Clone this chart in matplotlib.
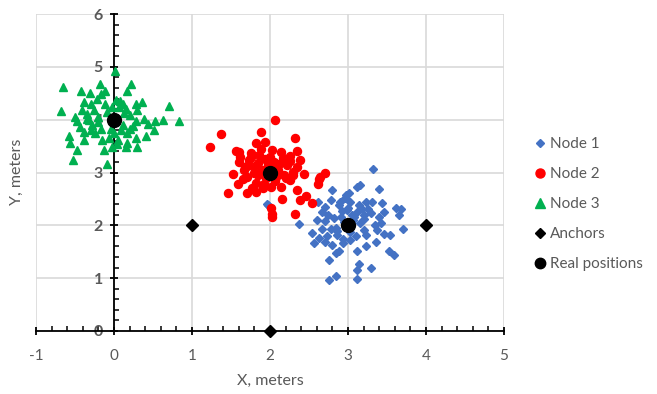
import matplotlib
matplotlib.use("Agg")
import matplotlib.pyplot as plt
from matplotlib.ticker import MultipleLocator
from matplotlib.lines import Line2D

plt.rcParams['font.family'] = ['Lato', 'DejaVu Sans']

# ---- data ----
node1_x = [3.32, 3.12, 3.15, 3.40, 2.80, 2.96, 3.03, 2.78, 2.71, 2.67, 2.88, 2.99, 3.14, 3.23,
           3.31, 3.44, 3.61, 3.65, 3.46, 3.40, 3.30, 3.21, 3.12, 3.08, 2.82, 2.91, 2.61, 2.37,
           2.67, 2.78, 2.54, 2.63, 2.56, 2.71, 2.80, 2.86, 2.88, 2.94, 3.03, 3.03, 3.21, 3.23,
           3.37, 3.46, 3.54, 3.36, 3.23, 3.11, 3.53, 3.59, 2.76, 2.84, 3.14, 3.12, 3.29, 2.84,
           2.76, 3.11, 1.97, 2.95, 2.73, 3.16, 1.96, 3.00, 2.92, 3.07, 3.18, 3.35, 2.70, 2.85,
           2.90, 2.98, 3.05, 3.26, 2.86, 2.93, 3.10, 2.74, 3.20, 3.42, 3.68, 3.70, 2.60, 3.01]
node1_y = [3.07, 2.73, 2.76, 2.69, 2.66, 2.51, 2.44, 2.48, 2.35, 2.26, 2.38, 2.29, 2.38, 2.44,
           2.44, 2.43, 2.33, 2.19, 2.26, 2.16, 2.23, 2.19, 2.26, 2.16, 2.13, 2.16, 2.44, 2.02,
           1.94, 1.94, 1.85, 1.76, 1.66, 1.68, 1.63, 1.82, 1.51, 1.66, 1.72, 1.88, 1.91, 1.82,
           1.91, 1.83, 1.82, 1.69, 1.60, 1.51, 1.51, 1.44, 1.35, 1.48, 1.26, 1.16, 1.19, 1.04,
           0.96, 0.98, 2.38, 2.06, 1.79, 2.04, 2.40, 2.33, 2.28, 2.10, 2.30, 2.00, 2.08, 1.95,
           2.45, 2.58, 2.20, 2.31, 1.90, 1.75, 1.80, 2.20, 2.12, 2.05, 2.30, 1.93, 2.10, 2.62]

node2_x = [2.06, 1.37, 1.88, 1.23, 2.32, 1.82, 1.93, 1.56, 1.60, 1.76, 2.03, 2.14, 2.34, 2.26,
           2.39, 1.94, 1.86, 1.73, 1.60, 1.79, 2.12, 2.22, 2.35, 2.44, 2.29, 2.18, 1.52, 1.67,
           1.71, 1.84, 1.65, 1.59, 1.82, 2.07, 2.26, 2.14, 2.70, 2.64, 2.61, 1.46, 1.71, 1.82,
           1.91, 2.01, 2.34, 2.46, 2.39, 2.54, 2.16, 2.01, 2.03, 2.32, 1.77, 1.97, 2.63, 2.03,
           1.90, 2.10, 1.75, 2.20, 1.68, 1.95, 2.05, 1.88, 1.80, 2.00, 2.17, 1.92, 1.70, 2.25,
           2.08, 1.85, 1.62, 2.30]
node2_y = [3.99, 3.72, 3.77, 3.48, 3.66, 3.55, 3.58, 3.40, 3.39, 3.36, 3.42, 3.39, 3.40, 3.31,
           3.23, 3.26, 3.33, 3.23, 3.20, 3.11, 3.17, 3.14, 3.11, 2.98, 3.01, 2.95, 2.98, 3.04,
           2.92, 2.95, 2.87, 2.79, 2.81, 2.84, 2.86, 2.73, 2.99, 2.92, 2.79, 2.62, 2.62, 2.64,
           2.70, 2.73, 2.67, 2.56, 2.48, 2.43, 2.50, 2.32, 2.21, 2.21, 2.70, 3.14, 2.88, 2.16,
           3.05, 3.05, 3.30, 2.90, 3.10, 2.90, 3.20, 3.45, 3.00, 3.30, 3.28, 2.78, 3.12, 3.22,
           2.92, 3.18, 3.30, 2.95]

node3_x = [0.01, -0.66, 0.22, -0.18, -0.42, -0.31, -0.17, -0.11, 0.17, -0.68, -0.38, -0.30,
           0.02, 0.11, 0.28, 0.36, 0.71, 0.30, 0.83, 0.63, 0.53, 0.43, 0.38, 0.28, 0.51, 0.41,
           0.30, 0.16, 0.04, -0.02, 0.28, 0.17, 0.09, 0.21, -0.47, -0.43, -0.58, -0.56, -0.47,
           -0.53, -0.38, -0.30, -0.17, -0.15, -0.13, -0.09, -0.24, -0.34, -0.26, -0.09, -0.02,
           0.06, 0.15, -0.41, -0.32, -0.21, -0.38, 0.00, -0.04, 0.17, -0.20, -0.12, 0.08, 0.12,
           -0.28, -0.06, 0.20, -0.35, 0.05, -0.22, 0.24, -0.50, 0.13]
node3_y = [4.92, 4.62, 4.68, 4.68, 4.55, 4.50, 4.49, 4.55, 4.55, 4.16, 4.33, 4.30, 4.38, 4.30,
           4.30, 4.33, 4.25, 4.18, 3.97, 4.00, 3.97, 3.91, 4.02, 3.97, 3.80, 3.70, 3.48, 3.48,
           3.53, 3.48, 3.66, 3.74, 3.80, 3.83, 3.97, 3.86, 3.70, 3.55, 3.43, 3.23, 3.61, 3.80,
           3.83, 3.61, 3.43, 3.17, 3.74, 4.11, 4.18, 4.14, 4.24, 4.24, 4.21, 4.18, 3.99, 3.96,
           3.77, 3.74, 3.83, 3.55, 4.05, 4.30, 4.35, 3.90, 3.90, 3.65, 4.08, 4.02, 3.62, 4.40,
           3.88, 4.05, 4.12]

anchor_x = [1, 4, 2]
anchor_y = [2, 2, 0]
real_x = [0, 2, 3]
real_y = [4, 3, 2]

series_labels = ["Node 1", "Node 2", "Node 3", "Anchors", "Real positions"]
x_ticks = [-1, 0, 1, 2, 3, 4, 5]
y_ticks = [0, 1, 2, 3, 4, 5, 6]

# ---- figure ----
fig = plt.figure(figsize=(6.57, 3.94), dpi=100)
ax = fig.add_axes([36/657, 1 - 331/394, (504 - 36)/657, (331 - 14)/394])

grid_c = '#D9D9D9'
text_c = '#595959'

ax.set_xlim(-1, 5)
ax.set_ylim(0, 6)
for gx in x_ticks:
    ax.axvline(gx, color=grid_c, lw=1.2, zorder=0)
for gy in y_ticks:
    ax.axhline(gy, color=grid_c, lw=1.2, zorder=0)

ax.plot(node1_x, node1_y, ls='none', marker='D', ms=3.7, color='#4472C4', label=series_labels[0], zorder=3)
ax.plot(node2_x, node2_y, ls='none', marker='o', ms=5.8, color='#FF0000', label=series_labels[1], zorder=3)
ax.plot(node3_x, node3_y, ls='none', marker='^', ms=6.0, color='#00B050', label=series_labels[2], zorder=3)
ax.plot(anchor_x, anchor_y, ls='none', marker='D', ms=6.5, color='black', label=series_labels[3], zorder=4, clip_on=False)
ax.plot(real_x, real_y, ls='none', marker='o', ms=10, color='black', label=series_labels[4], zorder=5)

for s in ['top', 'right']:
    ax.spines[s].set_visible(False)
ax.spines['left'].set_position(('data', 0))
ax.spines['left'].set_color('black')
ax.spines['bottom'].set_color('black')
ax.spines['left'].set_linewidth(1.3)
ax.spines['bottom'].set_linewidth(1.3)
ax.spines['left'].set_zorder(2)
ax.spines['bottom'].set_zorder(2)

ax.set_xticks(x_ticks)
ax.set_yticks(y_ticks)
ax.xaxis.set_minor_locator(MultipleLocator(0.2))
ax.yaxis.set_minor_locator(MultipleLocator(0.2))
ax.tick_params(which='major', direction='inout', length=6, width=1.3, color='black')
ax.tick_params(which='minor', direction='in', length=3.5, width=1.1, color='black')
ax.tick_params(axis='x', which='major', pad=10, labelsize=11, labelcolor=text_c)
ax.tick_params(axis='y', which='major', pad=5, labelsize=11.5, labelcolor=text_c)
ax.set_xticklabels([str(v) for v in x_ticks])
ax.set_yticklabels([str(v) for v in y_ticks], fontweight='bold')

fig.text(270/657, 1 - 381/394, "X, meters", ha='center', va='center', fontsize=11.5, color=text_c)
fig.text(17/657, 1 - 172/394, "Y, meters", ha='center', va='center', rotation=90, fontsize=11.5, color=text_c)

handles = [
    Line2D([], [], ls='none', marker='D', ms=4.2, color='#4472C4'),
    Line2D([], [], ls='none', marker='o', ms=6.5, color='#FF0000'),
    Line2D([], [], ls='none', marker='^', ms=6.5, color='#00B050'),
    Line2D([], [], ls='none', marker='D', ms=5.0, color='black'),
    Line2D([], [], ls='none', marker='o', ms=7.5, color='black'),
]
leg = fig.legend(handles, series_labels, loc='center left', bbox_to_anchor=(526/657, 1 - 204/394),
                 frameon=False, fontsize=11, labelspacing=1.05, handlelength=0.8,
                 handletextpad=0.3, borderpad=0)
for t in leg.get_texts():
    t.set_color(text_c)

fig.savefig("out.png", dpi=100)
